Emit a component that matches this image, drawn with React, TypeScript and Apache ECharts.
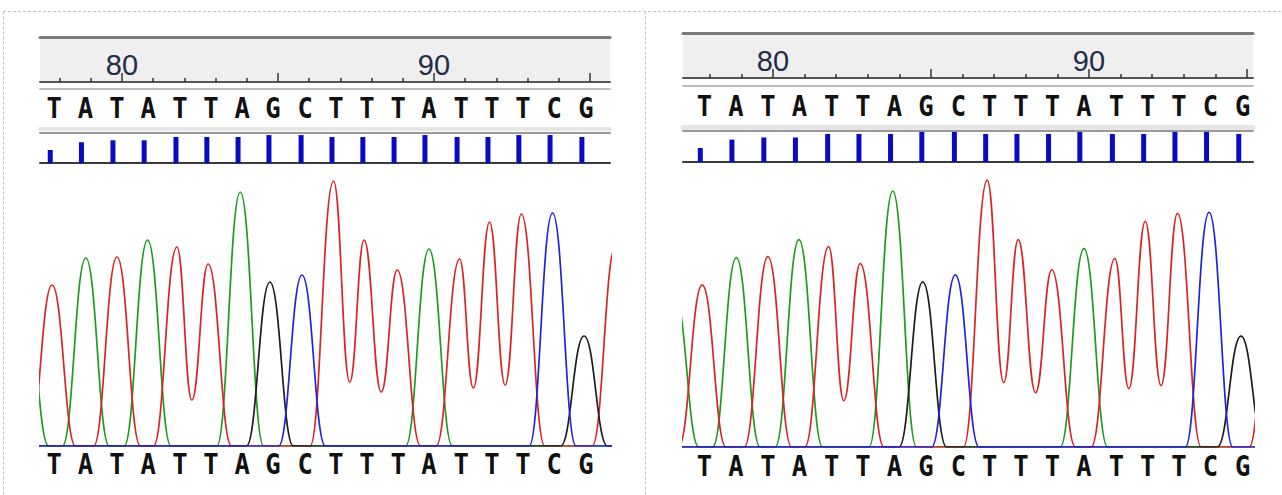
import React, { useEffect, useRef } from "react";
import * as echarts from "echarts";

// ---- data ----
const bases = ["T", "A", "T", "A", "T", "T", "A", "G", "C", "T", "T", "T", "A", "T", "T", "T", "C", "G"];
const callPos = [77.7, 78.7, 79.71, 80.71, 81.73, 82.72, 83.72, 84.71, 85.74, 86.73, 87.72, 88.72, 89.71, 90.74, 91.73, 92.72, 93.72, 94.74];
const quality = [20, 32, 35, 35, 40, 40, 40, 43, 43, 40, 40, 40, 43, 40, 40, 43, 43, 40];
const rulerMinorTicks = [78, 79, 81, 82, 83, 84, 86, 87, 88, 89, 91, 92, 93, 94];
const rulerMajorTicks = [80, 85, 90, 95];
const rulerLabels = [80, 90];

// trace control points: [position, amplitude] (feet, peaks, valleys)
const traceA = [
  [76.0, 0], [76.15, 0], [76.9, 150], [77.65, 0], [78.09, 0], [78.84, 188], [79.59, 0],
  [80.07, 0], [80.82, 206], [81.57, 0], [83.04, 0], [83.79, 254], [84.54, 0],
  [89.09, 0], [89.84, 197], [90.59, 0], [97.0, 0],
];
const traceT = [
  [76.0, 0], [77.01, 0], [77.76, 161], [78.51, 0], [79.09, 0], [79.84, 189], [80.59, 0],
  [81.01, 0], [81.76, 199], [82.24, 46], [82.76, 182], [83.51, 0], [86.03, 0], [86.78, 265],
  [87.3, 64], [87.76, 206], [88.31, 54], [88.82, 176], [89.57, 0], [90.07, 0], [90.82, 187],
  [91.26, 58], [91.78, 224], [92.28, 61], [92.8, 232], [93.55, 0], [95.07, 0], [95.82, 200],
  [96.57, 0], [97.0, 0],
];
const traceG = [
  [76.0, 0], [83.99, 0], [84.74, 164], [85.49, 0], [94.06, 0], [94.81, 110], [95.56, 0], [97.0, 0],
];
const traceC = [
  [76.0, 0], [85.02, 0], [85.77, 171], [86.52, 0], [93.05, 0], [93.8, 233], [94.55, 0], [97.0, 0],
];

const traces = [
  { data: traceA, color: "#1e9a1e" },
  { data: traceT, color: "#d82424" },
  { data: traceG, color: "#1c1c1c" },
  { data: traceC, color: "#2222dd" },
];

// ---- layout of the two panels ----
const panels = [
  {
    left: 40, width: 570, min: 77.372, max: 95.641,
    rulerTop: 37, rulerH: 45,
    lettersTop: 89, lettersH: 37, bandOffset: 3, bandW: 4,
    qualTop: 133, qualH: 30, qualMax: 46.2,
    traceTop: 166, traceH: 280, traceMax: 280,
    bottomTop: 450, bottomH: 28,
  },
  {
    left: 683, width: 570, min: 77.152, max: 95.19,
    rulerTop: 33.5, rulerH: 44.5,
    lettersTop: 86, lettersH: 39, bandOffset: 2.5, bandW: 5,
    qualTop: 131, qualH: 31, qualMax: 44.3,
    traceTop: 165, traceH: 282, traceMax: 280,
    bottomTop: 452, bottomH: 28,
  },
];

const letterFont = 'bold 29px "DejaVu Sans Mono"';

function buildOption() {
  const grid: any[] = [];
  const xAxis: any[] = [];
  const yAxis: any[] = [];
  const series: any[] = [];

  const baseX = (p: any, gridIndex: number, extra: any = {}) => ({
    type: "value",
    gridIndex,
    min: p.min,
    max: p.max,
    show: true,
    axisLine: { show: false, onZero: false },
    axisTick: { show: false },
    axisLabel: { show: false },
    splitLine: { show: false },
    ...extra,
  });
  const addX = (o: any) => { xAxis.push(o); return xAxis.length - 1; };
  const addY = (gridIndex: number, max: number) => {
    yAxis.push({ type: "value", gridIndex, min: 0, max, show: false, splitLine: { show: false } });
    return yAxis.length - 1;
  };
  const letterRender = (params: any, api: any) => {
    const pt = api.coord([api.value(0), api.value(1)]);
    return {
      type: "text",
      x: pt[0] + 4,
      y: pt[1],
      scaleX: 0.88,
      style: { text: bases[params.dataIndex], font: letterFont, fill: "#111111", align: "center", verticalAlign: "middle" },
    };
  };

  panels.forEach((p) => {
    const g0 = grid.length;
    grid.push({ left: p.left, width: p.width, top: p.rulerTop, height: p.rulerH, show: true, backgroundColor: "#efefef", borderWidth: 0 });
    grid.push({ left: p.left, width: p.width, top: p.lettersTop, height: p.lettersH });
    grid.push({ left: p.left, width: p.width, top: p.qualTop, height: p.qualH });
    grid.push({ left: p.left, width: p.width, top: p.traceTop, height: p.traceH });
    grid.push({ left: p.left, width: p.width, top: p.bottomTop, height: p.bottomH });

    // ruler
    addY(g0, 1);
    addX(baseX(p, g0, {
      position: "bottom",
      axisLine: { show: true, onZero: false, lineStyle: { color: "#555555", width: 2 } },
      axisTick: { show: true, inside: true, length: 4, customValues: rulerMinorTicks, lineStyle: { color: "#333333", width: 1.5 } },
    }));
    addX(baseX(p, g0, {
      position: "bottom",
      axisTick: { show: true, inside: true, length: 9, customValues: rulerMajorTicks, lineStyle: { color: "#333333", width: 1.5 } },
      axisLabel: {
        show: true, inside: true, customValues: rulerLabels, margin: 3,
        fontSize: 29, fontFamily: "Liberation Sans", color: "#222c48",
      },
    }));
    addX(baseX(p, g0, {
      position: "top",
      axisLine: { show: true, onZero: false, lineStyle: { color: "#7a7a7a", width: 3 } },
    }));

    // top letters
    const yL = addY(g0 + 1, 1);
    addX(baseX(p, g0 + 1, {
      position: "top",
      axisLine: { show: true, onZero: false, lineStyle: { color: "#bdbdbd", width: 2 } },
    }));
    const xL = addX(baseX(p, g0 + 1, {
      position: "bottom",
      offset: p.bandOffset,
      axisLine: { show: true, onZero: false, lineStyle: { color: "#e6e6e6", width: p.bandW } },
    }));
    series.push({
      type: "custom",
      xAxisIndex: xL,
      yAxisIndex: yL,
      silent: true,
      clip: false,
      data: callPos.map((x) => [x, 0.5]),
      renderItem: letterRender,
    });

    // quality bars
    const yQ = addY(g0 + 2, p.qualMax);
    const xQ = addX(baseX(p, g0 + 2, {
      position: "bottom",
      axisLine: { show: true, onZero: false, lineStyle: { color: "#3a3a3a", width: 2 } },
    }));
    addX(baseX(p, g0 + 2, {
      position: "top",
      axisLine: { show: true, onZero: false, lineStyle: { color: "#9a9a9a", width: 2 } },
    }));
    series.push({
      type: "bar",
      xAxisIndex: xQ,
      yAxisIndex: yQ,
      silent: true,
      barWidth: 5,
      data: callPos.map((x, i) => [x, quality[i]]),
      itemStyle: { color: "#0a0ac4" },
      z: 1,
    });

    // traces
    const yT = addY(g0 + 3, p.traceMax);
    const xT = addX(baseX(p, g0 + 3, { show: false }));
    traces.forEach((t) => {
      series.push({
        type: "line",
        xAxisIndex: xT,
        yAxisIndex: yT,
        data: t.data,
        symbol: "none",
        smooth: 0.45,
        smoothMonotone: "x",
        clip: true,
        silent: true,
        lineStyle: { color: t.color, width: 1.7 },
      });
    });

    // bottom letters
    const yB = addY(g0 + 4, 1);
    const xB = addX(baseX(p, g0 + 4, { show: false }));
    series.push({
      type: "custom",
      xAxisIndex: xB,
      yAxisIndex: yB,
      silent: true,
      clip: false,
      data: callPos.map((x) => [x, 0.5]),
      renderItem: letterRender,
    });
  });

  const dash = { stroke: "#c4c4c4", lineWidth: 1, lineDash: [3, 2] };
  return {
    animation: false,
    backgroundColor: "#ffffff",
    grid,
    xAxis,
    yAxis,
    series,
    graphic: [
      { type: "line", shape: { x1: 3, y1: 11.5, x2: 1282, y2: 11.5 }, style: dash, silent: true },
      { type: "line", shape: { x1: 3.5, y1: 11.5, x2: 3.5, y2: 495 }, style: dash, silent: true },
      { type: "line", shape: { x1: 645.5, y1: 11.5, x2: 645.5, y2: 495 }, style: dash, silent: true },
    ],
  };
}

export default function App() {
  const ref = useRef<HTMLDivElement>(null);
  useEffect(() => {
    if (!ref.current) return;
    const chart = echarts.init(ref.current, undefined, { renderer: "svg" });
    chart.setOption(buildOption() as any);
    return () => chart.dispose();
  }, []);
  return (
    <div
      ref={ref}
      style={{ position: "absolute", left: 0, top: 0, width: 1282, height: 495, background: "#ffffff" }}
    />
  );
}
